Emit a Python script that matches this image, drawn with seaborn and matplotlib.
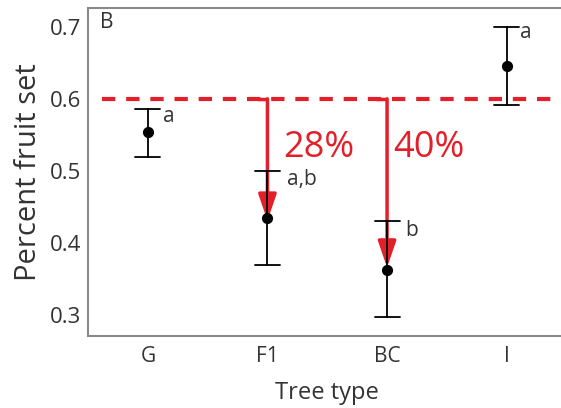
import pandas as pd
import matplotlib
matplotlib.use("Agg")
import matplotlib.pyplot as plt
import seaborn as sns

# data
tree_types = ['G', 'F1', 'BC', 'I']
means = [0.554, 0.434, 0.362, 0.645]
lower = [0.520, 0.369, 0.297, 0.592]
upper = [0.586, 0.500, 0.430, 0.700]
letters = ['a', 'a,b', 'b', 'a']
reference = 0.6
drops = ['28%', '40%']
arrow_tips = [0.431, 0.366]

red = '#e3202a'
txt = '#333333'

# long table: lower / mean / upper per type -> median = mean, min/max = bar
df = pd.DataFrame({
    'Tree type': tree_types * 3,
    'value': lower + means + upper,
})

sns.set_style("white")
plt.rcParams['font.family'] = ['Open Sans', 'DejaVu Sans']

fig = plt.figure(figsize=(5.61, 4.08), dpi=100)
ax = fig.add_axes([88 / 561, 72 / 408, 478.5 / 561, 328 / 408])

sns.pointplot(
    data=df, x='Tree type', y='value', order=tree_types,
    estimator='median', errorbar=lambda v: (v.min(), v.max()),
    color='black', linestyle='none', markersize=6,
    capsize=0.21, err_kws={'linewidth': 1.3}, ax=ax
)
for line in ax.lines:
    line.set_zorder(4)

ax.set_xlim(-0.5, 3.5)
ax.set_ylim(0.271, 0.726)
ax.set_yticks([0.3, 0.4, 0.5, 0.6, 0.7])

# reference line and drops
ax.hlines(reference, -0.38, 3.6, colors=red, linestyles=(0, (3.2, 2.6)), lw=3, zorder=2)
text_dx = [0.13, 0.05]
for i, (tip, lab) in enumerate(zip(arrow_tips, drops)):
    xi = i + 1
    ax.hlines(reference, xi - 0.09, xi, colors=red, lw=2.5, zorder=3)
    ax.annotate('', xy=(xi, tip), xytext=(xi, reference),
                arrowprops=dict(arrowstyle='-|>,head_length=16,head_width=5.5',
                                mutation_scale=1, color=red, lw=2.5,
                                shrinkA=0, shrinkB=0), zorder=3)
    ax.text(xi + text_dx[i], 0.532, lab, color=red, fontsize=26, va='center', ha='left')

# significance letters
offsets = [(0.13, -0.010), (0.16, -0.012), (0.15, -0.012), (0.11, -0.008)]
for i, (u, let) in enumerate(zip(upper, letters)):
    dx, dy = offsets[i]
    ax.text(i + dx, u + dy, let, color=txt, fontsize=15, va='center', ha='left')

ax.text(0.025, 0.955, 'B', transform=ax.transAxes, color=txt, fontsize=15,
        va='center', ha='left')

ax.set_xlabel('Tree type', fontsize=17, color=txt, labelpad=10)
ax.set_ylabel('Percent fruit set', fontsize=21, color=txt, labelpad=5)
ax.tick_params(axis='both', labelsize=16, labelcolor=txt, length=3,
               color='#999999', width=1, pad=2)
ax.tick_params(axis='x', labelsize=15, pad=4)
for s in ax.spines.values():
    s.set_color('#8a8a8a')
    s.set_linewidth(1.5)

fig.savefig('out.png', dpi=100)
